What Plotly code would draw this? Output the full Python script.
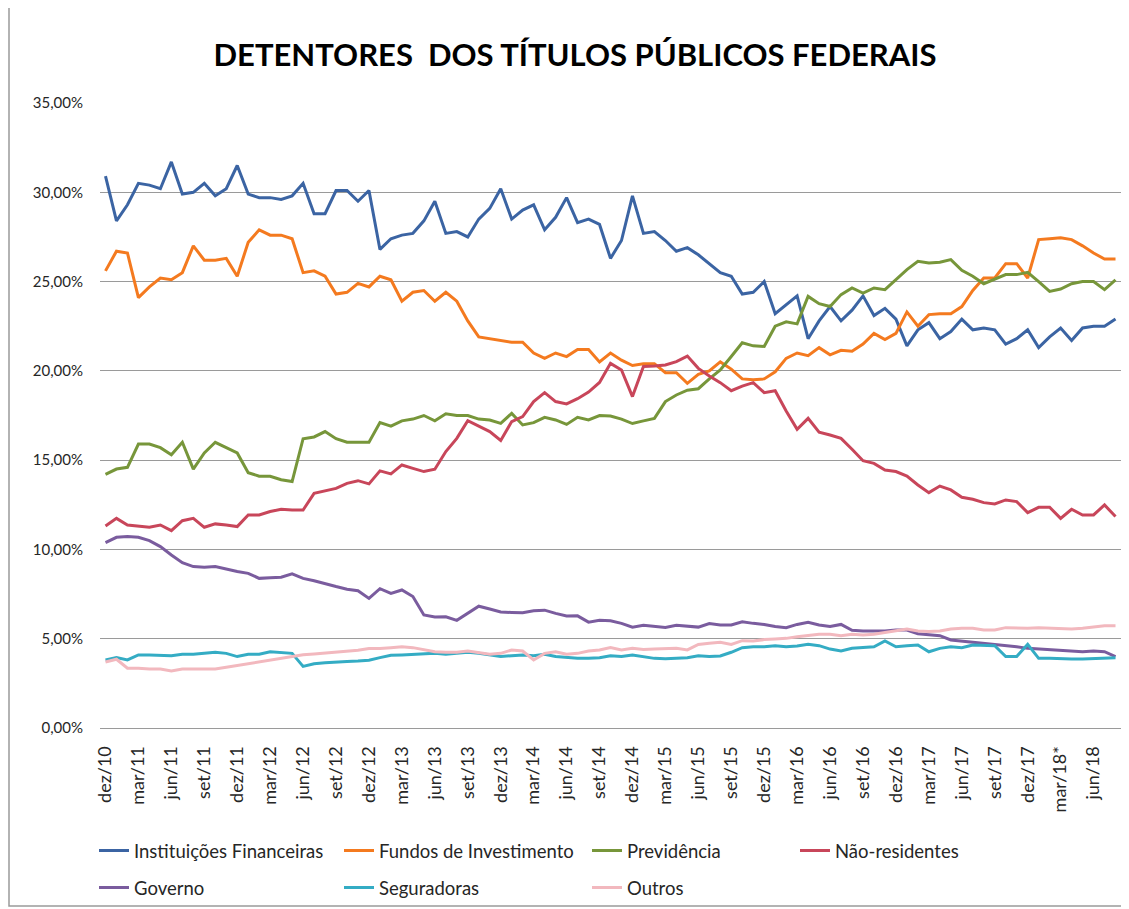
import plotly.graph_objects as go

# Monthly series, dez/10 to ago/18 (share of federal public debt, %)
pt_months = ['jan', 'fev', 'mar', 'abr', 'mai', 'jun', 'jul', 'ago', 'set', 'out', 'nov', 'dez']
months = ['dez/10'] + [f"{m}/{y}" for y in range(11, 19) for m in pt_months][:92]

tick_labels = ['dez/10', 'mar/11', 'jun/11', 'set/11', 'dez/11', 'mar/12', 'jun/12', 'set/12',
               'dez/12', 'mar/13', 'jun/13', 'set/13', 'dez/13', 'mar/14', 'jun/14', 'set/14',
               'dez/14', 'mar/15', 'jun/15', 'set/15', 'dez/15', 'mar/16', 'jun/16', 'set/16',
               'dez/16', 'mar/17', 'jun/17', 'set/17', 'dez/17', 'mar/18*', 'jun/18']

instituicoes = [30.9, 28.4, 29.3, 30.5, 30.4, 30.2, 31.7, 29.9, 30.0, 30.5,
                29.8, 30.2, 31.5, 29.9, 29.7, 29.7, 29.6, 29.8, 30.5, 28.8,
                28.8, 30.1, 30.1, 29.5, 30.1, 26.8, 27.4, 27.6, 27.7, 28.4,
                29.5, 27.7, 27.8, 27.5, 28.5, 29.1, 30.2, 28.5, 29.0, 29.3,
                27.9, 28.6, 29.7, 28.3, 28.5, 28.2, 26.3, 27.3, 29.8, 27.7,
                27.8, 27.3, 26.7, 26.9, 26.5, 26.0, 25.5, 25.3, 24.3, 24.4,
                25.0, 23.2, 23.7, 24.2, 21.8, 22.8, 23.6, 22.8, 23.4, 24.2,
                23.1, 23.5, 22.9, 21.4, 22.3, 22.7, 21.8, 22.2, 22.9, 22.3,
                22.4, 22.3, 21.5, 21.8, 22.3, 21.3, 21.9, 22.4, 21.7, 22.4,
                22.5, 22.5, 22.9]

fundos = [25.6, 26.7, 26.6, 24.1, 24.7, 25.2, 25.1, 25.5, 27.0, 26.2,
          26.2, 26.3, 25.3, 27.2, 27.9, 27.6, 27.6, 27.4, 25.5, 25.6,
          25.3, 24.3, 24.4, 24.9, 24.7, 25.3, 25.1, 23.9, 24.4, 24.5,
          23.9, 24.4, 23.9, 22.8, 21.9, 21.8, 21.7, 21.6, 21.6, 21.0,
          20.7, 21.0, 20.8, 21.2, 21.2, 20.5, 21.0, 20.6, 20.3, 20.4,
          20.4, 19.9, 19.9, 19.3, 19.8, 20.0, 20.5, 20.1, 19.55, 19.5,
          19.55, 19.95, 20.7, 21.0, 20.85, 21.3, 20.9, 21.15, 21.1, 21.5,
          22.1, 21.75, 22.1, 23.3, 22.5, 23.15, 23.2, 23.2, 23.6, 24.5,
          25.2, 25.2, 26.0, 26.0, 25.2, 27.35, 27.4, 27.45, 27.35, 27.0,
          26.6, 26.26, 26.26]

previdencia = [14.2, 14.5, 14.6, 15.9, 15.9, 15.7, 15.3, 16.0, 14.5, 15.4,
               16.0, 15.7, 15.4, 14.3, 14.1, 14.1, 13.9, 13.8, 16.2, 16.3,
               16.6, 16.2, 16.0, 16.0, 16.0, 17.1, 16.9, 17.2, 17.3, 17.5,
               17.2, 17.6, 17.5, 17.5, 17.3, 17.25, 17.06, 17.62, 16.97, 17.1,
               17.4, 17.25, 17.0, 17.4, 17.25, 17.5, 17.47, 17.3, 17.05, 17.2,
               17.34, 18.28, 18.65, 18.92, 19.0, 19.55, 20.05, 20.8, 21.57, 21.4,
               21.37, 22.5, 22.75, 22.63, 24.17, 23.76, 23.6, 24.27, 24.64, 24.36,
               24.64, 24.55, 25.1, 25.67, 26.13, 26.04, 26.08, 26.23, 25.63, 25.3,
               24.88, 25.14, 25.39, 25.39, 25.52, 25.0, 24.45, 24.58, 24.88, 25.0,
               25.0, 24.55, 25.1]

nao_residentes = [11.31, 11.74, 11.37, 11.31, 11.24, 11.37, 11.05, 11.61, 11.74, 11.24,
                  11.43, 11.37, 11.28, 11.93, 11.93, 12.12, 12.25, 12.21, 12.21, 13.14,
                  13.29, 13.42, 13.7, 13.85, 13.67, 14.4, 14.23, 14.73, 14.54, 14.36,
                  14.49, 15.48, 16.22, 17.21, 16.91, 16.6, 16.1, 17.16, 17.44, 18.28,
                  18.78, 18.28, 18.15, 18.44, 18.81, 19.35, 20.42, 20.05, 18.56, 20.24,
                  20.27, 20.33, 20.52, 20.83, 20.14, 19.71, 19.34, 18.89, 19.15, 19.34,
                  18.78, 18.89, 17.75, 16.73, 17.34, 16.57, 16.41, 16.22, 15.61, 14.97,
                  14.82, 14.45, 14.36, 14.11, 13.61, 13.18, 13.55, 13.33, 12.92, 12.81,
                  12.62, 12.55, 12.77, 12.68, 12.06, 12.36, 12.36, 11.74, 12.25, 11.93,
                  11.93, 12.49, 11.84]

governo = [10.38, 10.68, 10.72, 10.68, 10.49, 10.16, 9.69, 9.26, 9.04, 9.0,
           9.04, 8.89, 8.76, 8.66, 8.38, 8.42, 8.44, 8.63, 8.38, 8.25,
           8.07, 7.92, 7.77, 7.69, 7.26, 7.8, 7.54, 7.73, 7.36, 6.33,
           6.22, 6.23, 6.03, 6.42, 6.82, 6.66, 6.5, 6.47, 6.45, 6.56,
           6.6, 6.42, 6.27, 6.28, 5.93, 6.03, 6.0, 5.86, 5.65, 5.75,
           5.69, 5.63, 5.75, 5.68, 5.65, 5.85, 5.77, 5.77, 5.95, 5.86,
           5.8, 5.68, 5.62, 5.8, 5.92, 5.77, 5.68, 5.8, 5.47, 5.43,
           5.43, 5.43, 5.49, 5.49, 5.28, 5.21, 5.17, 4.93, 4.87, 4.8,
           4.74, 4.69, 4.65, 4.55, 4.46, 4.42, 4.37, 4.31, 4.27, 4.27,
           4.31, 4.27, 4.0]

seguradoras = [3.81, 3.94, 3.81, 4.09, 4.09, 4.05, 4.05, 4.13, 4.13, 4.18,
               4.24, 4.18, 4.0, 4.13, 4.13, 4.27, 4.24, 4.18, 3.45, 3.6,
               3.65, 3.7, 3.72, 3.75, 3.8, 3.94, 4.07, 4.09, 4.13, 4.18,
               4.18, 4.13, 4.18, 4.24, 4.18, 4.09, 4.0, 4.05, 4.09, 4.05,
               4.13, 4.0, 3.94, 3.9, 3.9, 3.94, 4.05, 4.0, 4.09, 4.0,
               3.9, 3.88, 3.9, 3.94, 4.05, 4.0, 4.03, 4.24, 4.5, 4.55,
               4.55, 4.6, 4.55, 4.59, 4.69, 4.61, 4.42, 4.31, 4.46, 4.5,
               4.55, 4.87, 4.55, 4.61, 4.65, 4.27, 4.46, 4.55, 4.5, 4.65,
               4.65, 4.61, 4.0, 4.0, 4.69, 3.9, 3.9, 3.86, 3.86, 3.86,
               3.9, 3.9, 3.94]

outros = [3.7, 3.85, 3.35, 3.35, 3.3, 3.3, 3.2, 3.3, 3.3, 3.3,
          3.3, 3.4, 3.5, 3.6, 3.7, 3.8, 3.9, 4.0, 4.1, 4.15,
          4.2, 4.25, 4.3, 4.35, 4.45, 4.45, 4.5, 4.55, 4.5, 4.4,
          4.27, 4.24, 4.24, 4.31, 4.24, 4.13, 4.18, 4.37, 4.31, 3.81,
          4.18, 4.27, 4.13, 4.18, 4.31, 4.37, 4.5, 4.37, 4.46, 4.4,
          4.42, 4.46, 4.46, 4.37, 4.68, 4.74, 4.8, 4.68, 4.89, 4.87,
          4.95, 4.98, 5.02, 5.11, 5.17, 5.25, 5.25, 5.17, 5.25, 5.21,
          5.25, 5.36, 5.43, 5.54, 5.43, 5.4, 5.43, 5.54, 5.58, 5.58,
          5.49, 5.49, 5.62, 5.58, 5.58, 5.62, 5.58, 5.54, 5.54, 5.58,
          5.67, 5.73, 5.73]

y_ticks = [0, 5, 10, 15, 20, 25, 30, 35]
y_tick_labels = ['0,00%', '5,00%', '10,00%', '15,00%', '20,00%', '25,00%', '30,00%', '35,00%']

series = [
    ('Instituições Financeiras', instituicoes, '#3B64A3'),
    ('Fundos de Investimento', fundos, '#F47A1F'),
    ('Previdência', previdencia, '#77963A'),
    ('Não-residentes', nao_residentes, '#C8465A'),
    ('Governo', governo, '#7A5C9E'),
    ('Seguradoras', seguradoras, '#34ACC4'),
    ('Outros', outros, '#F2B8BE'),
]

# The page body has an 8px margin, so work in page pixels and shift back.
OFF = 8
W, H = 1129 - OFF, 909 - OFF
plot_left, plot_right, plot_top, plot_bottom = 100 - OFF, 1121 - OFF, 103 - OFF, 728 - OFF
L, R, T, B = plot_left, W - plot_right, plot_top, H - plot_bottom
pw, ph = plot_right - plot_left, plot_bottom - plot_top


def px_x(x):
    return (x - OFF - plot_left) / pw


def px_y(y):
    return (plot_bottom - (y - OFF)) / ph


# Legend entries: page x where the label text starts, page y of the row
legend_pos = [(134, 851), (379, 851), (627, 851), (835, 851),
              (134, 888), (379, 888), (627, 888)]

fig = go.Figure()
layout_legends = {}
for k, (name, values, color) in enumerate(series):
    leg = 'legend' if k == 0 else f'legend{k + 1}'
    fig.add_trace(go.Scatter(x=months, y=values, name=name, mode='lines',
                             line=dict(color=color, width=3), legend=leg))
    lx, ly = legend_pos[k]
    # container refs so the legends do not push the plot margins
    layout_legends[leg] = dict(
        xref='container', yref='container',
        x=(lx - 40 - OFF) / W, y=1 - (ly - OFF) / H, xanchor='left', yanchor='middle',
        orientation='h', bgcolor='rgba(0,0,0,0)',
        font=dict(family='Lato', size=18.5, color='#262626'),
    )

fig.update_layout(
    width=W, height=H,
    margin=dict(l=L, r=R, t=T, b=B),
    paper_bgcolor='white', plot_bgcolor='white',
    title=dict(text='<b>DETENTORES  DOS TÍTULOS PÚBLICOS FEDERAIS</b>',
               x=(575 - OFF) / W, xanchor='center', y=1 - (55 - OFF) / H, yanchor='middle',
               font=dict(family='Lato', size=31, color='black')),
    showlegend=True,
    **layout_legends,
)

fig.update_xaxes(type='category', range=[-0.5, len(months) - 0.5],
                 tickvals=months[::3], ticktext=tick_labels, tickangle=-90,
                 tickfont=dict(family='Lato', size=18, color='#262626'),
                 showgrid=False, showline=True, linecolor='#9A9A9A', linewidth=1,
                 ticks='', ticklabelstandoff=10)

fig.update_yaxes(range=[0, 35], tickvals=y_ticks, ticktext=y_tick_labels,
                 tickfont=dict(family='Lato', size=15, color='#262626'),
                 showgrid=True, gridcolor='#9A9A9A', gridwidth=1,
                 zeroline=False, ticks='', ticklabelstandoff=16)

# Chart frame
fig.add_shape(type='rect', xref='paper', yref='paper',
              x0=px_x(9), x1=px_x(1124), y0=px_y(906), y1=px_y(-20),
              line=dict(color='#9A9A9A', width=1.5), fillcolor='rgba(0,0,0,0)')

fig.write_html("out.html")
